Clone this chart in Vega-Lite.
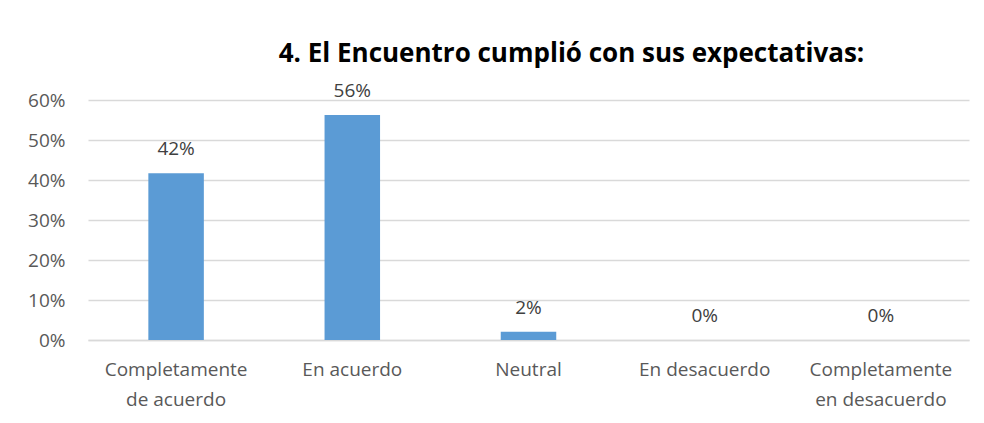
{
  "$schema": "https://vega.github.io/schema/vega-lite/v6.json",
  "autosize": {"type": "none"},
  "padding": {"left": 88, "top": 100, "right": 15, "bottom": 83},
  "width": 881,
  "height": 240,
  "background": "white",
  "title": {
    "text": "4. El Encuentro cumplió con sus expectativas:",
    "font": "Open Sans",
    "fontSize": 26,
    "fontWeight": "bold",
    "color": "#000000",
    "anchor": "middle",
    "dx": 43,
    "offset": 15
  },
  "data": {
    "values": [
      {"cat": "Completamente|de acuerdo", "v": 0.4167},
      {"cat": "En acuerdo", "v": 0.5625},
      {"cat": "Neutral", "v": 0.0208},
      {"cat": "En desacuerdo", "v": 0},
      {"cat": "Completamente|en desacuerdo", "v": 0}
    ]
  },
  "encoding": {
    "x": {
      "field": "cat",
      "type": "nominal",
      "sort": null,
      "scale": {"paddingInner": 0.685, "paddingOuter": 0.3425},
      "axis": {
        "title": null,
        "labelAngle": 0,
        "labelExpr": "split(datum.label, '|')",
        "labelFont": "Open Sans",
        "labelFontSize": 19,
        "labelColor": "#595959",
        "labelLineHeight": 30,
        "labelPadding": 20,
        "ticks": false,
        "domainColor": "#d9d9d9",
        "domainWidth": 1.5,
        "labelLimit": 300
      }
    },
    "y": {
      "field": "v",
      "type": "quantitative",
      "scale": {"domain": [0, 0.6]},
      "axis": {
        "title": null,
        "values": [0, 0.1, 0.2, 0.3, 0.4, 0.5, 0.6],
        "format": ".0%",
        "labelFont": "Open Sans",
        "labelFontSize": 19,
        "labelColor": "#595959",
        "labelPadding": 23,
        "ticks": false,
        "domain": false,
        "gridColor": "#d9d9d9",
        "gridWidth": 1.5
      }
    }
  },
  "layer": [
    {"mark": {"type": "bar", "color": "#5b9bd5"}},
    {
      "mark": {
        "type": "text",
        "baseline": "bottom",
        "dy": -14,
        "font": "Open Sans",
        "fontSize": 19,
        "color": "#404040"
      },
      "encoding": {"text": {"field": "v", "type": "quantitative", "format": ".0%"}}
    }
  ],
  "config": {"view": {"stroke": null}}
}
